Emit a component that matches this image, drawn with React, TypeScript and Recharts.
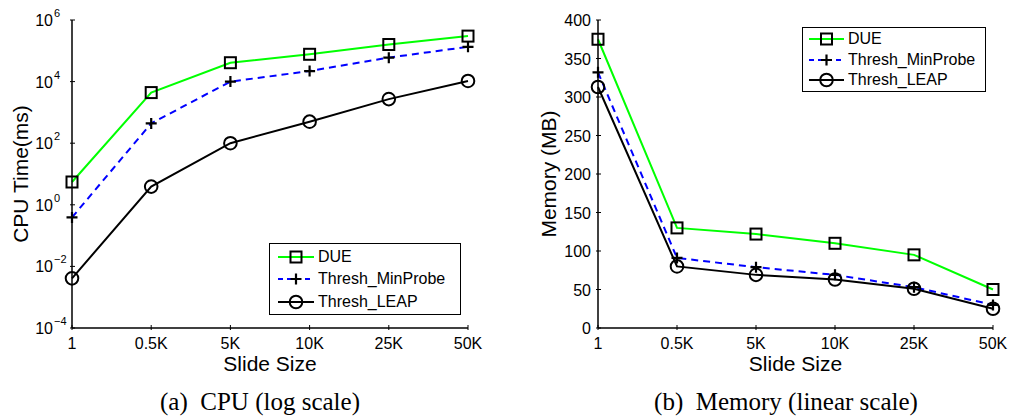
import React from 'react'
import { LineChart, Line, XAxis, YAxis } from 'recharts'

// x categories shared by both panels
const slideSizes = ['1', '0.5K', '5K', '10K', '25K', '50K']

// (a) CPU time in ms, log scale
const cpuDue = [5.5, 4400, 41000, 77000, 160000, 300000]
const cpuMinProbe = [0.39, 440, 10000, 22000, 60000, 135000]
const cpuLeap = [0.0041, 3.9, 100, 500, 2700, 10500]
const cpuTicks = [1e-4, 1e-2, 1, 1e2, 1e4, 1e6]

// (b) memory in MB, linear scale
const memDue = [375, 130, 122, 110, 95, 50]
const memMinProbe = [332, 91, 79, 69, 53, 30]
const memLeap = [313, 80, 69, 63, 51, 25]
const memTicks = [0, 50, 100, 150, 200, 250, 300, 350, 400]

const seriesKeys = ['due', 'minProbe', 'leap']
const seriesNames = ['DUE', 'Thresh_MinProbe', 'Thresh_LEAP']
const seriesColors = ['#00ff00', '#0000ff', '#000000']
const seriesDashes = [undefined, '7 5', undefined]
const seriesMarkers = ['square', 'plus', 'circle']

const cpuData = slideSizes.map((size, i) => ({ size, due: cpuDue[i], minProbe: cpuMinProbe[i], leap: cpuLeap[i] }))
const memData = slideSizes.map((size, i) => ({ size, due: memDue[i], minProbe: memMinProbe[i], leap: memLeap[i] }))

const SANS = '"Liberation Sans", Arial, Helvetica, sans-serif'
const SERIF = '"Liberation Serif", "Times New Roman", serif'
const axisLine = { stroke: '#000', strokeWidth: 1.5 }
const TICK = 5

function Marker({ kind, cx, cy }: { kind: string; cx: number; cy: number }) {
  if (kind === 'square')
    return <rect x={cx - 5.5} y={cy - 5.5} width={11} height={11} fill="none" stroke="#000" strokeWidth={2} />
  if (kind === 'plus')
    return <path d={`M${cx - 5.5},${cy}H${cx + 5.5}M${cx},${cy - 5.5}V${cy + 5.5}`} stroke="#000" strokeWidth={2.2} fill="none" />
  return <circle cx={cx} cy={cy} r={6.3} fill="none" stroke="#000" strokeWidth={2} />
}

// ticks point inward (matlab style); tickSize=0 makes x/y sit on the axis line
const BottomTick = (p: any) => (
  <g>
    <line x1={p.x} y1={p.y} x2={p.x} y2={p.y - TICK} stroke="#000" />
    <text x={p.x} y={p.y + 19} textAnchor="middle" fontSize={16} fontFamily={SANS} fill="#000">
      {p.payload.value}
    </text>
  </g>
)
const TopTick = (p: any) => <line x1={p.x} y1={p.y} x2={p.x} y2={p.y + TICK} stroke="#000" />
const RightTick = (p: any) => <line x1={p.x} y1={p.y} x2={p.x - TICK} y2={p.y} stroke="#000" />

const LogTick = (p: any) => {
  const exp = Math.round(Math.log10(p.payload.value))
  return (
    <g>
      <line x1={p.x} y1={p.y} x2={p.x + TICK} y2={p.y} stroke="#000" />
      <text x={p.x - 17} y={p.y + 6} textAnchor="end" fontSize={16} fontFamily={SANS} fill="#000">10</text>
      <text x={p.x - 16} y={p.y - 3} textAnchor="start" fontSize={11} fontFamily={SANS} fill="#000">
        {exp < 0 ? `\u2212${-exp}` : exp}
      </text>
    </g>
  )
}
const LinTick = (p: any) => (
  <g>
    <line x1={p.x} y1={p.y} x2={p.x + TICK} y2={p.y} stroke="#000" />
    <text x={p.x - 5} y={p.y + 6} textAnchor="end" fontSize={16} fontFamily={SANS} fill="#000">
      {p.payload.value}
    </text>
  </g>
)

const XTitle = ({ viewBox, text }: any) => (
  <text x={viewBox.x + viewBox.width / 2} y={viewBox.y + 43} textAnchor="middle" fontSize={21} fontFamily={SANS} fill="#000">
    {text}
  </text>
)
const YTitle = ({ viewBox, text, dx }: any) => {
  const x = viewBox.x + dx
  const y = viewBox.y + viewBox.height / 2
  return (
    <text x={x} y={y} transform={`rotate(-90 ${x} ${y})`} textAnchor="middle" dominantBaseline="central" fontSize={21} fontFamily={SANS} fill="#000">
      {text}
    </text>
  )
}

function LegendBox({ left, top, width, height, pad, sample }: any) {
  return (
    <div
      style={{
        position: 'absolute', left, top, width, height, boxSizing: 'border-box',
        border: '1.5px solid #000', background: '#fff', display: 'flex', flexDirection: 'column',
        justifyContent: 'space-evenly', fontFamily: SANS, fontSize: 16, color: '#000',
      }}
    >
      {seriesNames.map((name, i) => (
        <div key={name} style={{ display: 'flex', alignItems: 'center', height: 20 }}>
          <svg width={pad + sample + 4} height={20} style={{ flex: 'none' }}>
            <line x1={pad} y1={10} x2={pad + sample} y2={10} stroke={seriesColors[i]} strokeWidth={2} strokeDasharray={seriesDashes[i] ? '5 4' : undefined} />
            <Marker kind={seriesMarkers[i]} cx={pad + sample / 2} cy={10} />
          </svg>
          <span style={{ lineHeight: '20px', whiteSpace: 'nowrap' }}>{name}</span>
        </div>
      ))}
    </div>
  )
}

function Panel({ left, width, yWidth, rightMargin, data, log, domain, ticks, yTitle, yTitleDx }: any) {
  return (
    <div style={{ position: 'absolute', left, top: 0 }}>
      <LineChart width={width} height={380} data={data} margin={{ top: 20, right: rightMargin, bottom: 0, left: 0 }}>
        <XAxis xAxisId="bottom" dataKey="size" height={52} interval={0} tickSize={0} tickLine={false} axisLine={axisLine} tick={<BottomTick />} label={<XTitle text="Slide Size" />} />
        <XAxis xAxisId="top" orientation="top" dataKey="size" height={0} interval={0} tickSize={0} tickLine={false} axisLine={axisLine} tick={<TopTick />} />
        <YAxis yAxisId="left" width={yWidth} type="number" scale={log ? 'log' : 'linear'} domain={domain} ticks={ticks} allowDataOverflow interval={0} tickSize={0} tickLine={false} axisLine={axisLine} tick={log ? <LogTick /> : <LinTick />} label={<YTitle text={yTitle} dx={yTitleDx} />} />
        <YAxis yAxisId="right" orientation="right" width={0} type="number" scale={log ? 'log' : 'linear'} domain={domain} ticks={ticks} allowDataOverflow interval={0} tickSize={0} tickLine={false} axisLine={axisLine} tick={<RightTick />} />
        {seriesKeys.map((key, i) => (
          <Line
            key={key}
            xAxisId="bottom"
            yAxisId="left"
            dataKey={key}
            name={seriesNames[i]}
            type="linear"
            stroke={seriesColors[i]}
            strokeWidth={2}
            strokeDasharray={seriesDashes[i]}
            isAnimationActive={false}
            dot={(p: any) => <Marker key={p.index} kind={seriesMarkers[i]} cx={p.cx} cy={p.cy} />}
            activeDot={false}
          />
        ))}
      </LineChart>
    </div>
  )
}

const captionStyle = (cx: number): React.CSSProperties => ({
  position: 'absolute', left: cx - 200, width: 400, top: 386, textAlign: 'center',
  fontFamily: SERIF, fontSize: 25, lineHeight: '32px', whiteSpace: 'pre', color: '#000',
})

export default function App() {
  return (
    <div style={{ position: 'absolute', left: 0, top: 0, width: 1011, height: 419, background: '#fff', overflow: 'hidden' }}>
      <Panel left={0} width={500} yWidth={72} rightMargin={32} data={cpuData} log domain={[1e-4, 1e6]} ticks={cpuTicks} yTitle="CPU Time(ms)" yTitleDx={20} />
      <Panel left={500} width={511} yWidth={98} rightMargin={18} data={memData} log={false} domain={[0, 400]} ticks={memTicks} yTitle="Memory (MB)" yTitleDx={48} />
      <LegendBox left={269} top={243} width={192} height={72} pad={8} sample={36} />
      <LegendBox left={802} top={27} width={184} height={65} pad={6} sample={35} />
      <div style={captionStyle(260)}>{'(a)  CPU (log scale)'}</div>
      <div style={captionStyle(786)}>{'(b)  Memory (linear scale)'}</div>
    </div>
  )
}
